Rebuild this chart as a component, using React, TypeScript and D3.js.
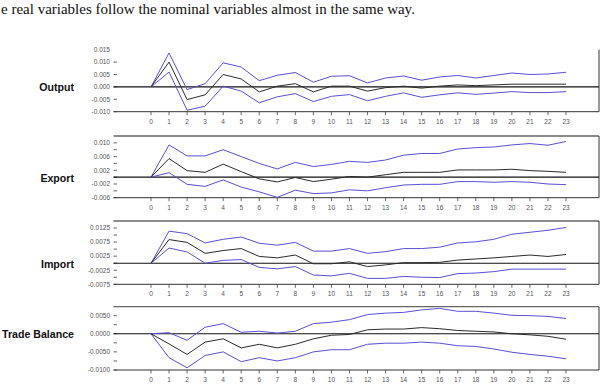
import { scaleLinear, line as d3line } from "d3";

// impulse-response horizons
const HORIZONS = [0, 1, 2, 3, 4, 5, 6, 7, 8, 9, 10, 11, 12, 13, 14, 15, 16, 17, 18, 19, 20, 21, 22, 23];

// Output response with +/- bands
const outputUpper = [0, 0.0137, -0.0011, 0.0013, 0.0097, 0.008, 0.0025, 0.0047, 0.0058, 0.0019, 0.0043, 0.0045, 0.0016, 0.0036, 0.0044, 0.0027, 0.004, 0.0046, 0.0036, 0.0046, 0.0056, 0.005, 0.0052, 0.0059];
const outputMid = [0, 0.01, -0.0051, -0.0032, 0.005, 0.0032, -0.002, 0.0003, 0.0013, -0.002, 0.0003, 0.0003, -0.0017, -0.0003, 0.0003, -0.0005, 0.0003, 0.0008, 0.0005, 0.0008, 0.0011, 0.0011, 0.0011, 0.0011];
const outputLower = [0, 0.006, -0.0094, -0.0078, 0.0003, -0.0017, -0.0064, -0.004, -0.0027, -0.0059, -0.0038, -0.0031, -0.0056, -0.0038, -0.0024, -0.0042, -0.0032, -0.0024, -0.003, -0.0025, -0.0019, -0.0023, -0.0023, -0.0019];

// Export response
const exportUpper = [0, 0.0094, 0.0062, 0.0062, 0.008, 0.006, 0.004, 0.0024, 0.0043, 0.0031, 0.0037, 0.0046, 0.0043, 0.005, 0.0064, 0.0069, 0.0069, 0.0082, 0.0086, 0.0088, 0.0094, 0.0098, 0.0093, 0.0104];
const exportMid = [0, 0.0054, 0.0019, 0.0014, 0.0038, 0.0016, -0.0005, -0.0014, -0.0001, -0.0013, -0.0006, 0.0002, 0, 0.0007, 0.0014, 0.0014, 0.0014, 0.0021, 0.0021, 0.0021, 0.0023, 0.0019, 0.0017, 0.0014];
const exportLower = [0, 0.0013, -0.0021, -0.0027, -0.0008, -0.0029, -0.0043, -0.0059, -0.0038, -0.0048, -0.0046, -0.0037, -0.004, -0.0031, -0.0023, -0.0021, -0.0021, -0.0013, -0.0013, -0.0015, -0.0013, -0.0015, -0.002, -0.0022];

// Import response
const importUpper = [0, 0.0114, 0.0105, 0.0072, 0.0085, 0.0093, 0.0071, 0.0064, 0.0074, 0.0043, 0.0043, 0.0052, 0.0035, 0.0041, 0.0052, 0.0052, 0.0057, 0.0072, 0.0076, 0.0085, 0.0103, 0.011, 0.0117, 0.0127];
const importMid = [0, 0.0084, 0.0074, 0.0035, 0.0045, 0.0052, 0.0024, 0.0019, 0.0029, -0.0002, -0.0002, 0.0005, -0.0012, -0.0006, 0.0002, 0.0002, 0.0003, 0.0011, 0.0015, 0.0019, 0.0024, 0.0029, 0.0024, 0.0031];
const importLower = [0, 0.0054, 0.004, 0, 0.001, 0.0013, -0.0015, -0.002, -0.0012, -0.0042, -0.0045, -0.0036, -0.0054, -0.0054, -0.0047, -0.005, -0.0051, -0.0037, -0.0035, -0.003, -0.0021, -0.0021, -0.0021, -0.0021];

// Trade balance response
const tradeUpper = [0, 0.0003, -0.0018, 0.0018, 0.0028, 0.0004, 0.0007, 0.0002, 0.0007, 0.0028, 0.0032, 0.0039, 0.0053, 0.0057, 0.0059, 0.0066, 0.007, 0.0062, 0.0062, 0.0057, 0.0051, 0.005, 0.0048, 0.0042];
const tradeMid = [0, -0.0028, -0.0057, -0.0023, -0.0014, -0.0039, -0.0029, -0.0039, -0.0029, -0.0014, -0.0004, -0.0002, 0.0011, 0.0013, 0.0013, 0.0017, 0.0014, 0.0009, 0.0007, 0.0005, 0, -0.0003, -0.0007, -0.0015];
const tradeLower = [0, -0.0066, -0.0094, -0.006, -0.005, -0.0077, -0.0066, -0.0075, -0.0066, -0.005, -0.0044, -0.0044, -0.0029, -0.0026, -0.0026, -0.0023, -0.0026, -0.0033, -0.0035, -0.0042, -0.0051, -0.0057, -0.0062, -0.0069];

// y-axis ticks and labels
const outputTicks = [0.015, 0.01, 0.005, 0, -0.005, -0.01];
const outputTickLabels = ["0.015", "0.010", "0.005", "0.000", "-0.005", "-0.010"];
const exportTicks = [0.01, 0.006, 0.002, -0.002, -0.006];
const exportTickLabels = ["0.010", "0.006", "0.002", "-0.002", "-0.006"];
const exportMinor = [0.008, 0.004, 0, -0.004];
const importTicks = [0.0125, 0.0075, 0.0025, -0.0025, -0.0075];
const importTickLabels = ["0.0125", "0.0075", "0.0025", "-0.0025", "-0.0075"];
const importMinor = [0.01, 0.005, 0, -0.005];
const tradeTicks = [0.005, 0, -0.005, -0.01];
const tradeTickLabels = ["0.0050", "0.0000", "-0.0050", "-0.0100"];
const tradeMinor = [0.0025, -0.0025, -0.0075];

const W = 603;
const H = 392;
const AXIS_LEFT = 113.5;
const AXIS_RIGHT = 599;
const BLUE = "#5a4fd6";

const x = scaleLinear().domain([0, 23]).range([151, 566]);

interface Panel {
  label: string;
  domain: [number, number];
  top: number;
  bottom: number;
  topLine: boolean;
  upper: number[];
  mid: number[];
  lower: number[];
  ticks: number[];
  tickLabels: string[];
  minor: number[];
  dashTop: boolean;
}

const panels: Panel[] = [
  { label: "Output", domain: [-0.01, 0.015], top: 49.7, bottom: 111.7, topLine: false, upper: outputUpper, mid: outputMid, lower: outputLower, ticks: outputTicks, tickLabels: outputTickLabels, minor: [], dashTop: false },
  { label: "Export", domain: [-0.006, 0.012], top: 136, bottom: 197.7, topLine: true, upper: exportUpper, mid: exportMid, lower: exportLower, ticks: exportTicks, tickLabels: exportTickLabels, minor: exportMinor, dashTop: true },
  { label: "Import", domain: [-0.0075, 0.015], top: 221, bottom: 284.3, topLine: true, upper: importUpper, mid: importMid, lower: importLower, ticks: importTicks, tickLabels: importTickLabels, minor: importMinor, dashTop: true },
  { label: "Trade Balance", domain: [-0.01, 0.0075], top: 306.6, bottom: 370, topLine: true, upper: tradeUpper, mid: tradeMid, lower: tradeLower, ticks: tradeTicks, tickLabels: tradeTickLabels, minor: tradeMinor, dashTop: true },
];

function IrfPanel({ p }: { p: Panel }) {
  const y = scaleLinear().domain(p.domain).range([p.bottom, p.top]);
  const gen = d3line<number>()
    .x((_, i) => x(HORIZONS[i]))
    .y((v) => y(v));

  return (
    <g>
      {/* condensed bold panel title, right-aligned against the axis labels */}
      <text
        transform={`translate(74,${y(0) + 4.5}) scale(0.9,1)`}
        textAnchor="end"
        fontSize={11.8}
        fontWeight="bold"
        fontFamily="'Liberation Sans', Arial, sans-serif"
        fill="#111"
      >
        {p.label}
      </text>

      {p.topLine && <line x1={AXIS_LEFT} x2={AXIS_RIGHT} y1={p.top} y2={p.top} stroke="#666" strokeWidth={1.4} />}
      <line x1={AXIS_RIGHT} x2={AXIS_RIGHT} y1={p.top} y2={p.bottom} stroke="#333" strokeWidth={1} />
      <line x1={AXIS_LEFT} x2={AXIS_RIGHT} y1={p.bottom} y2={p.bottom} stroke="#333" strokeWidth={1} />

      {p.ticks.map((t, i) => (
        <g key={t}>
          {(p.dashTop || i > 0) && (
            <line x1={AXIS_LEFT} x2={AXIS_LEFT + 3.5} y1={y(t)} y2={y(t)} stroke="#444" strokeWidth={0.8} />
          )}
          <text
            x={110}
            y={y(t)}
            dy="0.35em"
            textAnchor="end"
            fontSize={6.5}
            fontFamily="'Liberation Sans', Arial, sans-serif"
            fill="#555"
          >
            {p.tickLabels[i]}
          </text>
        </g>
      ))}
      {p.minor.map((t) => (
        <line key={t} x1={AXIS_LEFT} x2={AXIS_LEFT + 3.5} y1={y(t)} y2={y(t)} stroke="#444" strokeWidth={0.8} />
      ))}

      {HORIZONS.map((h) => (
        <g key={h}>
          <line x1={x(h)} x2={x(h)} y1={p.bottom} y2={p.bottom + 3.5} stroke="#444" strokeWidth={0.8} />
          <text
            x={x(h)}
            y={p.bottom + 12}
            textAnchor="middle"
            fontSize={6.5}
            fontFamily="'Liberation Sans', Arial, sans-serif"
            fill="#555"
          >
            {h}
          </text>
        </g>
      ))}

      <line x1={AXIS_LEFT} x2={AXIS_RIGHT} y1={y(0)} y2={y(0)} stroke="#111" strokeWidth={1.1} />

      <path d={gen(p.upper) ?? ""} fill="none" stroke={BLUE} strokeWidth={1} />
      <path d={gen(p.lower) ?? ""} fill="none" stroke={BLUE} strokeWidth={1} />
      <path d={gen(p.mid) ?? ""} fill="none" stroke="#2b2b2b" strokeWidth={1} />
    </g>
  );
}

export default function App() {
  return (
    <svg
      width={W}
      height={H}
      viewBox={`0 0 ${W} ${H}`}
      style={{ position: "absolute", left: 0, top: 0, background: "#fff" }}
    >
      <rect width={W} height={H} fill="#fff" />
      <text x={1} y={14} fontSize={15} fontFamily="'Liberation Serif', 'Times New Roman', serif" fill="#111">
        e real variables follow the nominal variables almost in the same way.
      </text>
      {panels.map((p) => (
        <IrfPanel key={p.label} p={p} />
      ))}
    </svg>
  );
}
